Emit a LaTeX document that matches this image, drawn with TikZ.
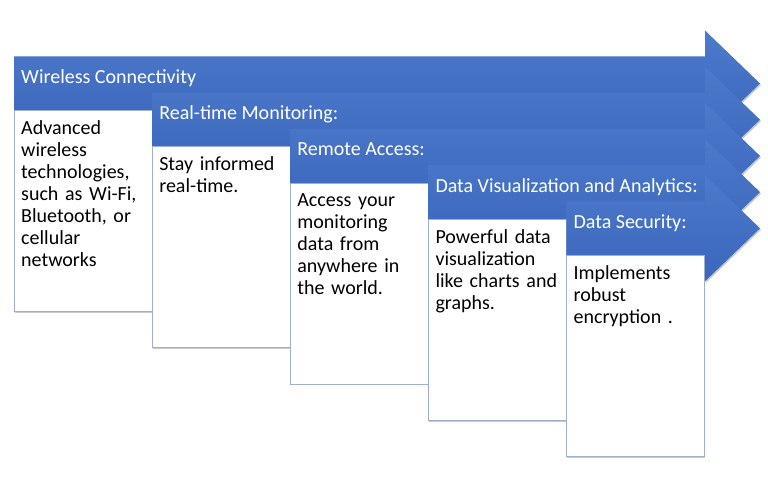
\documentclass[tikz,border=0pt]{standalone}
\usepackage{fontspec}
\setmainfont{Carlito}
\usetikzlibrary{shadows}
\definecolor{arrowtop}{HTML}{4D7ACA}
\definecolor{arrowbot}{HTML}{3A66BC}
\definecolor{boxline}{HTML}{9DAED0}
\tikzset{
  arrowshape/.style={top color=arrowtop, bottom color=arrowbot, draw=none,
    drop shadow={shadow xshift=1pt, shadow yshift=-1.5pt, opacity=0.3, fill=black!70}},
  infobox/.style={fill=white, draw=boxline, line width=0.8pt,
    drop shadow={shadow xshift=1pt, shadow yshift=-1.5pt, opacity=0.3, fill=black!70}},
  titletext/.style={text=white, inner sep=0pt, anchor=base west, font=\fontsize{20}{24}\selectfont},
  bodytext/.style={text=black, inner sep=0pt, anchor=base west, text width=132pt, align=left,
    font=\fontsize{20}{22}\selectfont}
}
\begin{document}
\begin{tikzpicture}[x=1pt,y=-1pt]
\useasboundingbox (0,0) rectangle (768,487);
\foreach \i/\ttl/\body in {
  0/{Wireless Connectivity}/{Advanced\\wireless\\technologies,\\such as Wi-Fi,\\Bluetooth, or\\cellular\\networks},
  1/{Real-time Monitoring:}/{Stay informed\\real-time.},
  2/{Remote Access:}/{Access your\\monitoring\\data from\\anywhere in\\the world.},
  3/{Data Visualization and Analytics:}/{Powerful data\\visualization\\like charts and\\graphs.},
  4/{Data Security:}/{Implements\\robust\\encryption .}}{
  \pgfmathsetmacro\xa{14+138.1*\i}
  \pgfmathsetmacro\xr{\xa+138}
  \pgfmathsetmacro\yc{83.5+36.2*\i}
  \pgfmathsetmacro\yt{\yc-27}
  \pgfmathsetmacro\yb{\yc+27}
  \pgfmathsetmacro\yht{\yc-53}
  \pgfmathsetmacro\yhb{\yc+53}
  \pgfmathsetmacro\ybox{\yb+201}
  \pgfmathsetmacro\ybase{\yb+24}
  \path[arrowshape] (\xa,\yt) -- (705,\yt) -- (705,\yht) -- (760,\yc) -- (705,\yhb) -- (705,\yb) -- (\xa,\yb) -- cycle;
  \path[infobox] (\xa,\yb) rectangle (\xr,\ybox);
  \node[titletext] (t\i) at (\xa+7,\yc) {\ttl};
  \node[bodytext] (b\i) at (\xa+7,\ybase) {\fontsize{20}{22}\selectfont\body};
}
\end{tikzpicture}
\end{document}
